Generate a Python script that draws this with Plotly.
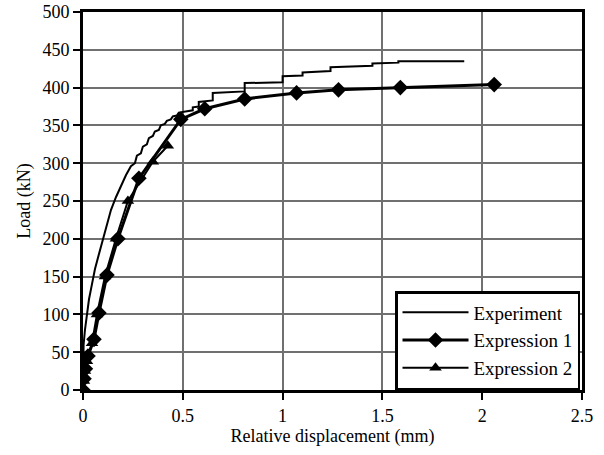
import plotly.graph_objects as go

# Experiment (measured curve, small load steps near the top)
exp_x = [0, 0.003, 0.01, 0.02, 0.03, 0.045, 0.06, 0.08, 0.1, 0.12, 0.14, 0.165, 0.19, 0.215, 0.24,
         0.26, 0.27, 0.29, 0.30, 0.32, 0.33, 0.35, 0.36, 0.38, 0.39, 0.41, 0.42, 0.44, 0.45, 0.47,
         0.48, 0.5, 0.55, 0.55, 0.58, 0.58, 0.65, 0.65, 0.81, 0.81,
         1.0, 1.0, 1.1, 1.1, 1.24, 1.24, 1.45, 1.45, 1.58, 1.58, 1.91]
exp_y = [0, 60, 80, 100, 120, 140, 160, 180, 200, 220, 238, 255, 270, 284, 296,
         300, 310, 313, 322, 325, 333, 336, 342, 344, 350, 352, 356, 358, 362, 363,
         367, 368, 370, 374, 375, 381, 383, 393, 395, 406,
         407, 415, 416, 420, 422, 427, 429, 432, 433, 435, 435]

# Expression 1 (diamonds)
e1_x = [0, 0.005, 0.012, 0.025, 0.055, 0.08, 0.12, 0.175, 0.28, 0.49, 0.61, 0.81, 1.07, 1.28, 1.59, 2.06]
e1_y = [0, 15, 28, 45, 67, 102, 152, 200, 280, 358, 372, 385, 393, 397, 400, 404]

# Expression 2 (triangles)
e2_x = [0, 0.005, 0.01, 0.02, 0.045, 0.07, 0.11, 0.165, 0.225, 0.35, 0.425]
e2_y = [0, 12, 25, 38, 62, 100, 150, 200, 250, 302, 323]

x_ticks = [0, 0.5, 1, 1.5, 2, 2.5]
x_tick_labels = ["0", "0.5", "1", "1.5", "2", "2.5"]
y_ticks = [0, 50, 100, 150, 200, 250, 300, 350, 400, 450, 500]

font_family = "Liberation Serif, Times New Roman, serif"

fig = go.Figure()
fig.add_trace(go.Scatter(x=exp_x, y=exp_y, mode="lines", name="Experiment",
                         line=dict(color="black", width=2)))
fig.add_trace(go.Scatter(x=e1_x, y=e1_y, mode="lines+markers", name="Expression 1",
                         line=dict(color="black", width=3),
                         marker=dict(symbol="diamond", size=12, color="black")))
fig.add_trace(go.Scatter(x=e2_x, y=e2_y, mode="lines+markers", name="Expression 2",
                         line=dict(color="black", width=2),
                         marker=dict(symbol="triangle-up", size=11, color="black")))

axis_common = dict(showline=True, linecolor="black", linewidth=3, mirror=True,
                   showgrid=True, gridcolor="#707070", gridwidth=1.5,
                   ticks="outside", ticklen=7, tickwidth=2, tickcolor="black",
                   zeroline=False, automargin=False,
                   tickfont=dict(family=font_family, size=18, color="black"))

fig.update_layout(
    width=604, height=455,
    margin=dict(l=83, r=22, t=12, b=65),
    paper_bgcolor="white", plot_bgcolor="white",
    font=dict(family=font_family, color="black"),
    showlegend=True,
    legend=dict(x=0.996, y=0.0, xanchor="right", yanchor="bottom",
                bgcolor="white", bordercolor="black", borderwidth=2.5,
                font=dict(family=font_family, size=19, color="black"),
                itemwidth=66, tracegroupgap=0),
)
fig.update_xaxes(range=[0, 2.5], tickvals=x_ticks, ticktext=x_tick_labels,
                 title=dict(text="Relative displacement (mm)",
                            font=dict(family=font_family, size=18), standoff=0),
                 **axis_common)
fig.update_yaxes(range=[0, 500], tickvals=y_ticks,
                 title=dict(text="Load (kN)", font=dict(family=font_family, size=18), standoff=8),
                 **axis_common)

fig.write_html("out.html", config={"displayModeBar": False},
               post_script="document.body.style.margin='0';")
